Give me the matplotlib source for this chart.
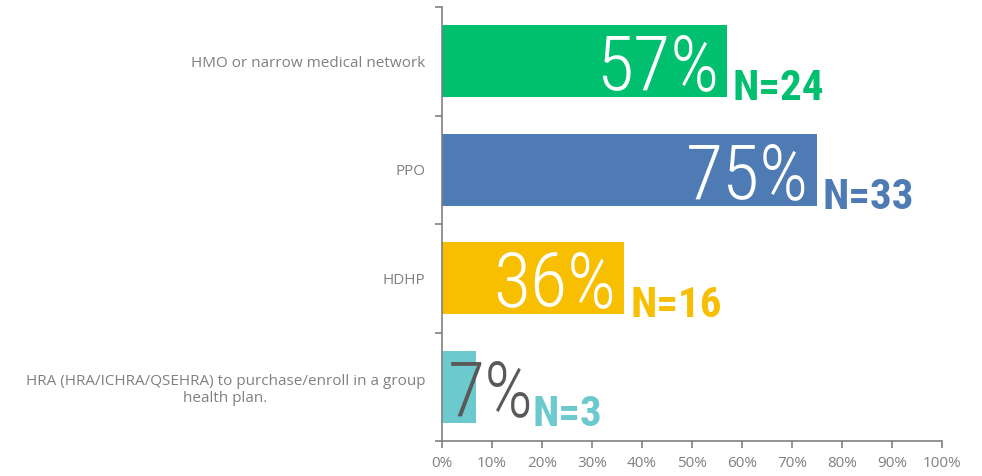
import matplotlib
matplotlib.use("Agg")
import matplotlib.pyplot as plt
from matplotlib.ticker import FixedLocator, PercentFormatter

# datos del gráfico
categorias = ["HMO or narrow medical network", "PPO", "HDHP",
              "HRA (HRA/ICHRA/QSEHRA) to purchase/enroll in a group\nhealth plan."]
valores = [57, 75, 36.5, 6.8]
etiquetas = ["57%", "75%", "36%", "7%"]
n_labels = ["N=24", "N=33", "N=16", "N=3"]
colores = ["#00BF6F", "#4F7BB5", "#F8BE00", "#6CC9CE"]

gris = "#808080"
fuente_num = ["Roboto Condensed", "Liberation Sans Narrow", "DejaVu Sans"]

fig = plt.figure(figsize=(9.82, 4.76), dpi=100)
ax = fig.add_axes([0.450, 0.0735, 0.509, 0.9115])

y = list(range(len(categorias)))
ax.barh(y, valores, height=0.665, color=colores)

ax.set_xlim(0, 100)
ax.set_ylim(3.5, -0.5)

# etiquetas de porcentaje y N
for i, (v, txt, n, c) in enumerate(zip(valores, etiquetas, n_labels, colores)):
    if v > 15:
        ax.text(v - 1.6, i + 0.26, txt, ha="right", va="baseline", color="white",
                fontsize=55, family=fuente_num, fontstretch="condensed", fontweight="light")
        x_end = v
    else:
        ax.text(1.2, i + 0.26, txt, ha="left", va="baseline", color="#595959",
                fontsize=55, family=fuente_num, fontstretch="condensed", fontweight="light")
        x_end = 17.0
    ax.text(x_end + 1.2, i + 0.36, n, ha="left", va="baseline", color=c,
            fontsize=31, fontweight="bold", family=fuente_num, fontstretch="condensed")

# ejes
for lado in ["top", "right"]:
    ax.spines[lado].set_visible(False)
for lado in ["left", "bottom"]:
    ax.spines[lado].set_color(gris)
    ax.spines[lado].set_linewidth(1.2)

ax.xaxis.set_major_locator(FixedLocator(range(0, 101, 10)))
ax.xaxis.set_major_formatter(PercentFormatter(100, decimals=0))
ax.tick_params(axis="x", colors=gris, labelsize=11, length=5, width=1.2, pad=6)
for lbl in ax.get_xticklabels():
    lbl.set_family(["Open Sans", "DejaVu Sans"])

ax.yaxis.set_major_locator(FixedLocator([-0.5, 0.5, 1.5, 2.5, 3.5]))
ax.yaxis.set_major_formatter(plt.NullFormatter())
ax.tick_params(axis="y", which="major", colors=gris, length=5, width=1.2)
ax.yaxis.set_minor_locator(FixedLocator(y))
ax.set_yticklabels(categorias, minor=True)
ax.tick_params(axis="y", which="minor", length=0, pad=12, labelsize=11, labelcolor=gris)
for lbl in ax.get_yticklabels(minor=True):
    lbl.set_family(["Open Sans", "DejaVu Sans"])
    lbl.set_multialignment("center")

fig.savefig("out.png", dpi=100)
